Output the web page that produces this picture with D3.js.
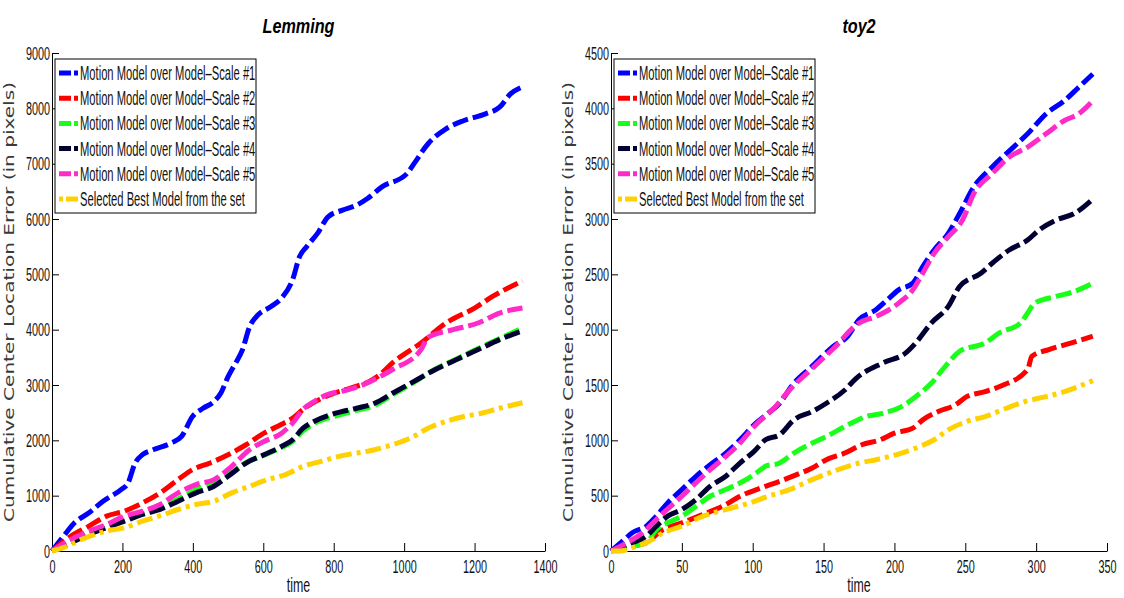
<!DOCTYPE html>
<html>
<head>
<meta charset="utf-8">
<script src="https://cdn.jsdelivr.net/npm/d3@7"></script>
<style>
  body { margin: 0; background: #fff; }
</style>
</head>
<body>
<div id="chart"></div>
<script>
// ---- data: [frame, cumulative error] ----
var lemmingScale1 = [[0,0],[33,270],[64,510],[105,690],[145,900],[196,1110],[216,1230],[236,1590],[257,1740],[287,1830],[338,1950],[368,2070],[399,2430],[429,2580],[460,2700],[480,2860],[500,3150],[520,3380],[541,3640],[561,4050],[581,4240],[622,4420],[652,4570],[683,4900],[703,5320],[723,5500],[754,5740],[784,6040],[825,6160],[865,6250],[896,6370],[937,6580],[1008,6820],[1028,7000],[1068,7360],[1119,7630],[1170,7780],[1231,7900],[1271,8020],[1302,8260],[1336,8390]];
var lemmingScale2 = [[0,0],[54,270],[105,450],[155,630],[206,720],[257,870],[307,1050],[358,1290],[399,1470],[449,1590],[500,1740],[551,1920],[602,2130],[652,2290],[683,2400],[713,2560],[760,2740],[800,2850],[850,2950],[900,3060],[926,3160],[967,3400],[1048,3760],[1119,4120],[1200,4390],[1251,4600],[1336,4880]];
var lemmingScale3 = [[0,0],[54,180],[105,340],[155,460],[206,570],[257,680],[307,770],[358,940],[409,1110],[460,1260],[500,1380],[551,1600],[602,1730],[652,1870],[683,1980],[713,2170],[744,2300],[805,2440],[865,2540],[916,2630],[967,2820],[1018,3010],[1089,3290],[1149,3470],[1210,3660],[1271,3840],[1336,4030]];
var lemmingScale4 = [[0,0],[54,150],[105,300],[155,420],[206,540],[257,660],[307,750],[358,900],[409,1050],[460,1170],[500,1350],[551,1590],[602,1740],[652,1890],[683,2010],[713,2220],[744,2340],[805,2490],[865,2580],[916,2670],[967,2850],[1018,3030],[1089,3280],[1149,3460],[1210,3640],[1271,3820],[1336,3980]];
var lemmingScale5 = [[0,0],[54,210],[105,360],[155,480],[206,630],[257,720],[307,840],[358,1050],[409,1200],[460,1290],[510,1530],[561,1830],[602,1980],[652,2130],[683,2310],[713,2560],[744,2700],[784,2830],[825,2890],[865,2960],[916,3100],[967,3280],[1048,3640],[1068,3860],[1139,4000],[1210,4120],[1271,4300],[1336,4390]];
var lemmingBest = [[0,0],[33,60],[84,210],[155,360],[206,420],[257,540],[318,660],[358,750],[409,840],[460,900],[510,1050],[561,1170],[612,1290],[663,1380],[713,1530],[764,1620],[815,1710],[916,1830],[967,1920],[1018,2040],[1068,2220],[1119,2340],[1170,2430],[1220,2490],[1271,2580],[1336,2680]];

var toyScale1 = [[0,0],[7,75],[15,165],[25,225],[32,315],[40,435],[50,555],[60,675],[70,780],[81,885],[91,1005],[101,1140],[111,1245],[119,1335],[128,1500],[142,1670],[157,1850],[167,1940],[175,2090],[187,2180],[195,2270],[203,2360],[213,2420],[220,2570],[228,2720],[238,2870],[246,3050],[256,3290],[269,3470],[284,3650],[294,3770],[307,3950],[320,4070],[330,4190],[340,4310]];
var toyScale2 = [[0,0],[15,45],[25,75],[35,180],[50,255],[65,330],[81,420],[91,495],[106,570],[119,630],[131,690],[142,750],[152,825],[165,885],[177,960],[190,1005],[200,1065],[213,1110],[220,1185],[231,1260],[243,1320],[251,1395],[264,1440],[276,1495],[294,1640],[297,1760],[309,1820],[325,1880],[340,1940]];
var toyScale3 = [[0,0],[15,45],[25,75],[32,195],[40,255],[50,315],[60,405],[70,495],[81,555],[91,615],[101,690],[109,765],[119,795],[129,885],[142,975],[152,1035],[165,1125],[180,1215],[192,1245],[205,1305],[215,1395],[226,1515],[236,1670],[246,1805],[264,1880],[274,1970],[289,2060],[294,2150],[299,2240],[314,2300],[327,2345],[340,2420]];
var toyScale4 = [[0,0],[15,75],[25,135],[32,225],[40,315],[50,375],[60,465],[70,585],[81,675],[91,795],[101,900],[109,1005],[119,1050],[129,1185],[142,1260],[152,1335],[165,1455],[173,1560],[192,1700],[208,1790],[215,1880],[226,2060],[238,2210],[246,2390],[261,2510],[269,2600],[281,2720],[294,2810],[302,2900],[314,2990],[327,3050],[340,3180]];
var toyScale5 = [[0,0],[7,45],[25,195],[32,285],[50,495],[70,735],[81,855],[91,975],[101,1125],[116,1305],[126,1455],[142,1650],[157,1830],[175,2060],[187,2120],[203,2240],[213,2360],[220,2510],[228,2690],[238,2840],[248,2990],[256,3230],[269,3410],[281,3560],[294,3650],[307,3770],[320,3890],[330,3950],[340,4070]];
var toyBest = [[0,0],[7,0],[15,30],[25,75],[37,165],[50,225],[65,315],[81,375],[98,435],[111,495],[126,555],[142,645],[157,720],[175,795],[187,825],[205,885],[218,945],[228,1005],[238,1095],[251,1170],[264,1215],[279,1290],[292,1350],[307,1395],[320,1440],[340,1540]];

var seriesNames = [
  "Motion Model over Model\u2013Scale #1",
  "Motion Model over Model\u2013Scale #2",
  "Motion Model over Model\u2013Scale #3",
  "Motion Model over Model\u2013Scale #4",
  "Motion Model over Model\u2013Scale #5",
  "Selected Best Model from the set"
];

var lemmingTicksX = [0,200,400,600,800,1000,1200,1400];
var lemmingTicksY = [0,1000,2000,3000,4000,5000,6000,7000,8000,9000];
var toyTicksX = [0,50,100,150,200,250,300,350];
var toyTicksY = [0,500,1000,1500,2000,2500,3000,3500,4000,4500];

// ---- styles ----
var lineColors = ["#0000ff","#ff0000","#1aff1a","#000033","#ff2bc8","#ffd100"];
var lineDashes = ["16,5","16,5","16,5","16,5","16,5","16,5,4,5"];
// the original uses a very condensed Helvetica: squeeze Liberation Sans horizontally
var sans = "'Liberation Sans', Arial, Helvetica, sans-serif";
var squeeze = 0.57;

var svg = d3.select("#chart").append("svg")
  .attr("width", 1124)
  .attr("height", 598)
  .style("font-family", sans);

function drawPanel(title, series, ticksX, ticksY, left, right) {
  var top = 53, bottom = 551;
  var x = d3.scaleLinear().domain([ticksX[0], ticksX[ticksX.length-1]]).range([left, right]);
  var y = d3.scaleLinear().domain([ticksY[0], ticksY[ticksY.length-1]]).range([bottom, top]);
  var g = svg.append("g");

  // axes (only left + bottom, ticks pointing inward)
  var gx = g.append("g")
    .attr("transform", "translate(0," + bottom + ")")
    .call(d3.axisBottom(x).tickValues(ticksX).tickSizeInner(-8).tickSizeOuter(0).tickPadding(0)
      .tickFormat(d3.format("d")));
  var gy = g.append("g")
    .attr("transform", "translate(" + left + ",0)")
    .call(d3.axisLeft(y).tickValues(ticksY).tickSizeInner(-7).tickSizeOuter(0).tickPadding(2)
      .tickFormat(d3.format("d")));
  [gx, gy].forEach(function(a) {
    a.attr("font-family", sans).attr("font-size", 19);
    a.select(".domain").attr("stroke", "#000");
    a.selectAll(".tick line").attr("stroke", "#000");
    a.selectAll("text").attr("fill", "#111");
  });
  gx.selectAll("text").attr("y", 9).attr("transform", "scale(" + squeeze + ",1)");
  gy.selectAll("text").attr("x", -2 / squeeze).attr("transform", "scale(" + squeeze + ",1)");

  // curves
  var line = d3.line()
    .x(function(d) { return x(d[0]); })
    .y(function(d) { return y(d[1]); })
    .curve(d3.curveMonotoneX);

  g.selectAll("path.series")
    .data(series)
    .enter()
    .append("path")
    .attr("class", "series")
    .attr("d", line)
    .attr("fill", "none")
    .attr("stroke", function(d, i) { return lineColors[i]; })
    .attr("stroke-width", 5)
    .attr("stroke-dasharray", function(d, i) { return lineDashes[i]; });

  // title
  g.append("text")
    .attr("transform", "translate(" + ((left + right) / 2) + ",33) scale(0.77,1)")
    .attr("text-anchor", "middle")
    .attr("font-size", 21)
    .attr("font-weight", "bold")
    .attr("font-style", "italic")
    .attr("fill", "#000")
    .text(title);

  // axis labels
  g.append("text")
    .attr("transform", "translate(" + ((left + right) / 2) + ",592) scale(0.62,1)")
    .attr("text-anchor", "middle")
    .attr("font-size", 20)
    .attr("fill", "#111")
    .text("time");

  g.append("text")
    .attr("transform", "translate(" + (left - 38) + "," + ((top + bottom) / 2) + ") rotate(-90)")
    .attr("text-anchor", "middle")
    .attr("font-family", "'DejaVu Sans', sans-serif")
    .attr("font-size", 14)
    .attr("textLength", 440)
    .attr("lengthAdjust", "spacingAndGlyphs")
    .attr("fill", "#3a3a3a")
    .text("Cumulative Center Location Error (in pixels)");

  // legend
  var lg = g.append("g").attr("transform", "translate(" + (left + 3) + ",59)");
  lg.append("rect")
    .attr("width", 201).attr("height", 154)
    .attr("fill", "#fff").attr("stroke", "#000").attr("stroke-width", 1);
  var rows = lg.selectAll("g.row")
    .data(seriesNames)
    .enter()
    .append("g")
    .attr("class", "row")
    .attr("transform", function(d, i) { return "translate(0," + (14 + i * 25.2) + ")"; });
  rows.append("line")
    .attr("x1", 4).attr("x2", 23)
    .attr("stroke", function(d, i) { return lineColors[i]; })
    .attr("stroke-width", 5)
    .attr("stroke-dasharray", function(d, i) { return i === 5 ? "4,3,12,5" : "12,3,4,5"; });
  rows.append("text")
    .attr("transform", "translate(25,7) scale(0.56,1)")
    .attr("font-size", 20)
    .attr("fill", "#111")
    .text(function(d) { return d; });
}

drawPanel("Lemming",
  [lemmingScale1, lemmingScale2, lemmingScale3, lemmingScale4, lemmingScale5, lemmingBest],
  lemmingTicksX, lemmingTicksY, 52, 545);
drawPanel("toy2",
  [toyScale1, toyScale2, toyScale3, toyScale4, toyScale5, toyBest],
  toyTicksX, toyTicksY, 611, 1107);
</script>
</body>
</html>
